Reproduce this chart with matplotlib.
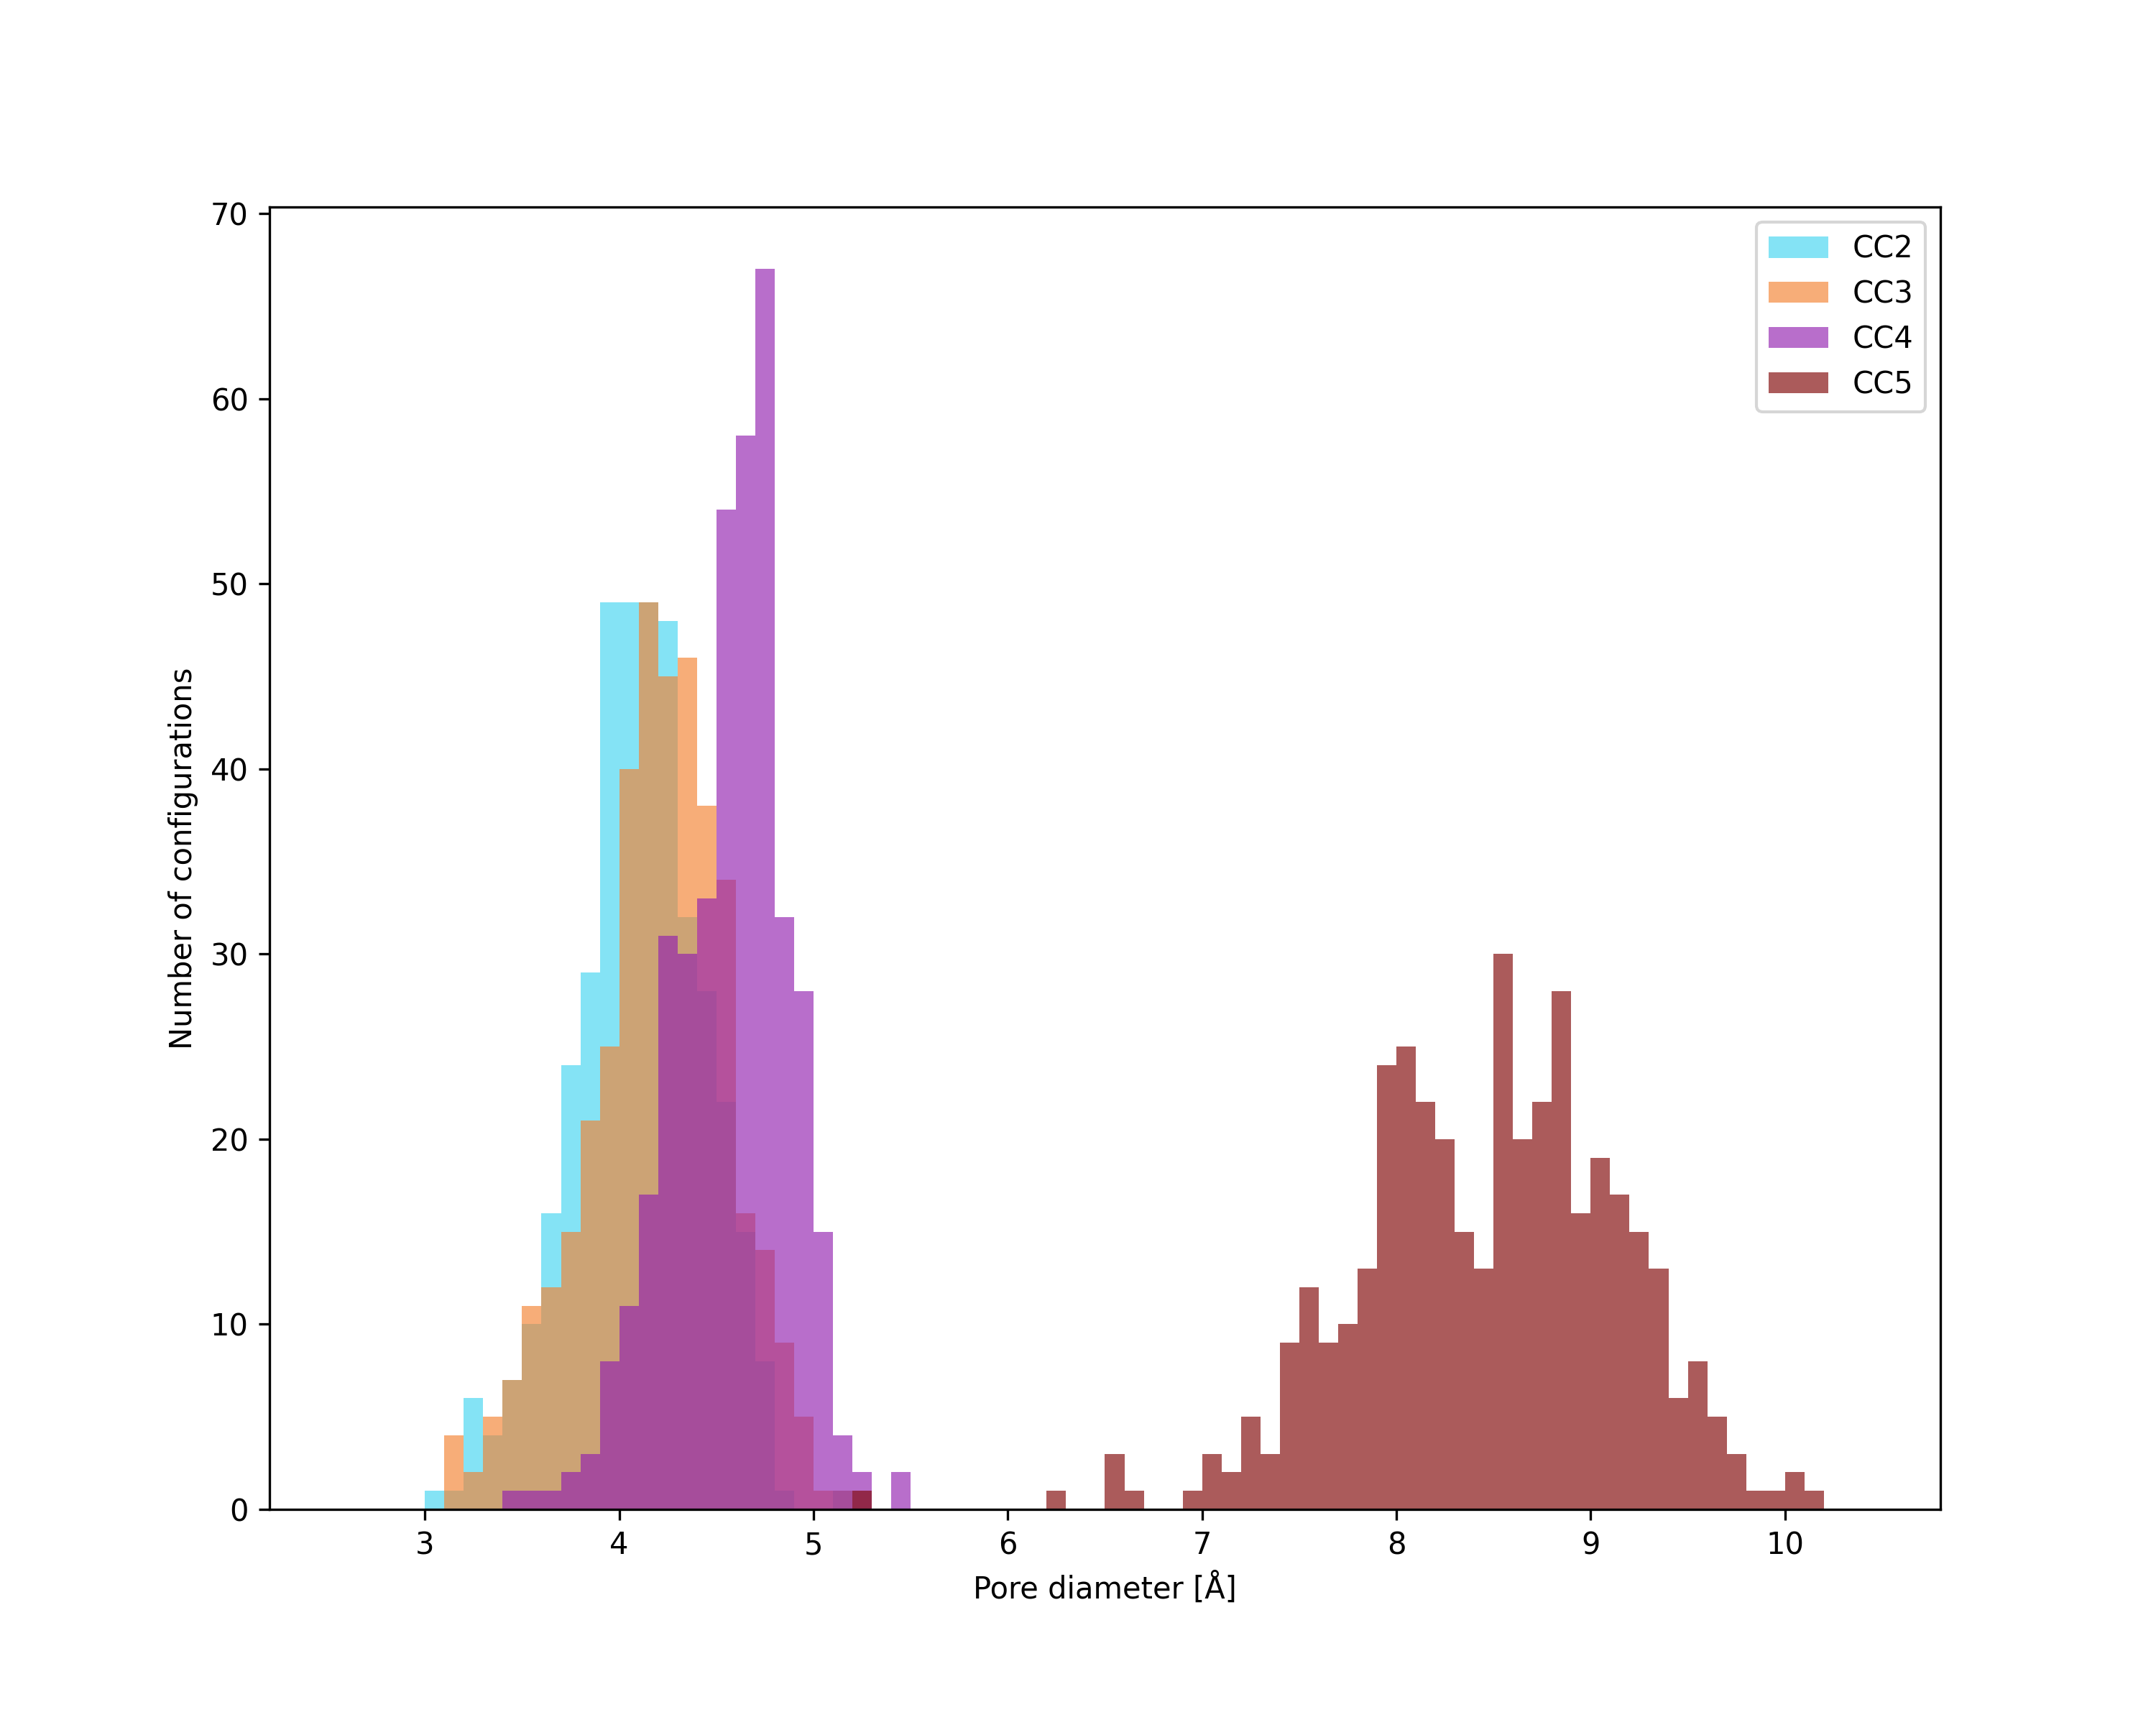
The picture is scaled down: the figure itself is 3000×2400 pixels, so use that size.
import numpy as np
import matplotlib
matplotlib.use("Agg")
import matplotlib.pyplot as plt

# histogram counts per 0.1 Å bin, each series starts at its own first bin
bin_width = 0.1

cc2_start = 3.0
cc2_counts = [1, 1, 6, 4, 7, 10, 16, 24, 29, 49, 49, 49, 48, 32, 28, 22, 15, 8, 1, 0, 0, 1]

cc3_start = 3.1
cc3_counts = [4, 2, 5, 7, 11, 12, 15, 21, 25, 40, 49, 45, 46, 38, 34, 16, 14, 9, 5, 1, 1]

cc4_start = 3.4
cc4_counts = [1, 1, 1, 2, 3, 8, 11, 17, 31, 30, 33, 54, 58, 67, 32, 28, 15, 4, 2, 0, 2]

cc5_start = 5.2
cc5_counts = [1, 0, 0, 0, 0, 0, 0, 0, 0, 0, 1, 0, 0, 3, 1, 0, 0, 1, 3, 2, 5, 3, 9, 12, 9, 10,
              13, 24, 25, 22, 20, 15, 13, 30, 20, 22, 28, 16, 19, 17, 15, 13, 6, 8, 5, 3,
              1, 1, 2, 1]

labels = ["CC2", "CC3", "CC4", "CC5"]
colors = ["#42d4f0", "#f38130", "#9220b0", "#7e0303"]

edges = np.round(np.arange(2.6, 10.45, bin_width), 2)

fig, ax = plt.subplots(figsize=(10, 8), dpi=300)
fig.subplots_adjust(bottom=0.125)

series = [(cc2_start, cc2_counts), (cc3_start, cc3_counts),
          (cc4_start, cc4_counts), (cc5_start, cc5_counts)]
for (start, counts), lab, col in zip(series, labels, colors):
    centers = start + bin_width * (np.arange(len(counts)) + 0.5)
    ax.hist(centers, bins=edges, weights=counts, color=col, alpha=0.65, label=lab)

ax.set_xlim(2.2, 10.8)
ax.set_xticks(range(3, 11))
ax.set_xlabel("Pore diameter [Å]")
ax.set_ylabel("Number of configurations")
ax.legend(loc="upper right")

fig.savefig("out.png", dpi=300)
